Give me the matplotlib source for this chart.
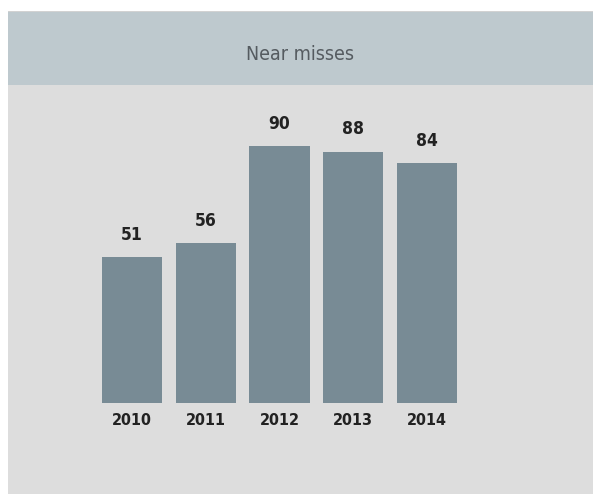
import matplotlib
matplotlib.use("Agg")
import matplotlib.pyplot as plt
from matplotlib.patches import Rectangle

years = ["2010", "2011", "2012", "2013", "2014"]
near_misses = [51, 56, 90, 88, 84]
title = "Near misses"

W, H = 593, 494


def px_box(x0, y0, x1, y1):
    # pixel box (top-left origin) -> figure fraction [l, b, w, h]
    return [x0 / W, 1 - y1 / H, (x1 - x0) / W, (y1 - y0) / H]


def main():
    fig = plt.figure(figsize=(W / 100, H / 100), dpi=100, facecolor="white")

    # panel backgrounds
    for box, col in [((8, 11, 593, 494), "#dddddd"),
                     ((8, 11, 593, 12), "#d2d2d2"),
                     ((8, 12, 593, 85), "#bec9ce")]:
        l, b, w, h = px_box(*box)
        fig.patches.append(Rectangle((l, b), w, h, transform=fig.transFigure,
                                     facecolor=col, edgecolor="none", zorder=-5))

    fig.text((8 + 593) / 2 / W, 1 - 54 / H, title, ha="center", va="center",
             fontsize=14, color="#555b60", family="DejaVu Sans",
             stretch="condensed")

    # axes covering the bar area: x -0.5..4.5, y 0..100
    ax = fig.add_axes(px_box(95.1, 117.4, 463.9, 403))
    ax.set_zorder(5)
    ax.set_facecolor("none")
    x = list(range(len(years)))
    bars = ax.bar(x, near_misses, width=0.814, color="#788b95")
    ax.set_xlim(-0.5, 4.5)
    ax.set_ylim(0, 100)
    for s in ax.spines.values():
        s.set_visible(False)
    ax.set_yticks([])
    ax.set_xticks(x)
    ax.set_xticklabels(years, fontsize=11.5, fontweight="bold", color="#222222",
                       family="DejaVu Sans", stretch="condensed")
    ax.tick_params(axis="x", length=0, pad=7)

    for rect, v in zip(bars, near_misses):
        ax.annotate(str(v), (rect.get_x() + rect.get_width() / 2, v),
                    xytext=(0, 9.5), textcoords="offset points",
                    ha="center", va="bottom", fontsize=12.5, fontweight="bold",
                    color="#222222", family="DejaVu Sans", stretch="condensed")

    fig.savefig("out.png", dpi=100, facecolor=fig.get_facecolor())


if __name__ == "__main__":
    main()
